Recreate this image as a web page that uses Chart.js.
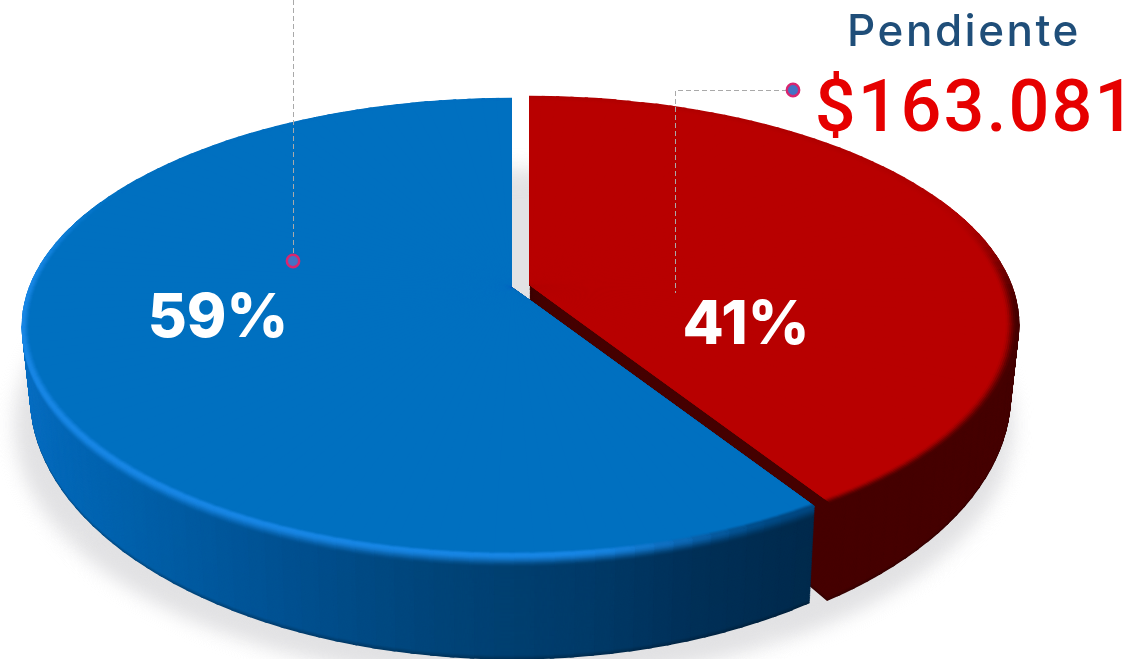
<!DOCTYPE html>
<html lang="es">
<head>
<meta charset="utf-8">
<title>Pendiente</title>
<script src="https://cdn.jsdelivr.net/npm/chart.js@4.4.1/dist/chart.umd.min.js"></script>
<style>
  html, body { margin: 0; padding: 0; background: #fff; }
  canvas { display: block; }
</style>
</head>
<body>
<canvas id="chart-canvas" width="1140" height="659"></canvas>
<script>
// values
const categories = ['Pendiente', 'Resto'];
const percentValues = [41, 59];
const percentLabels = ['41%', '59%'];
const pendingTitle = 'Pendiente';
const pendingAmount = '$163.081';

// look of the fake 3D pie
const topColors = [[184, 0, 0], [0, 112, 192]];
const sliceShift = [[17, -2], [0, 0]];
const labelPos = [[746, 344], [218, 337]];
const blueWallStops = [
  [20, [10, 112, 196]], [60, [4, 104, 184]], [150, [0, 95, 168]], [300, [0, 80, 144]],
  [450, [0, 68, 120]], [600, [0, 58, 104]], [700, [0, 48, 88]], [820, [0, 42, 76]]
];
const redWall = [70, 0, 0];
const wedgeCount = 180;
const perspective = -0.173;

function lerp(a, b, k) {
  return a.map((v, i) => v + (b[i] - v) * k);
}
function smooth(lo, hi, x) {
  const k = Math.min(1, Math.max(0, (x - lo) / (hi - lo)));
  return k * k * (3 - 2 * k);
}
function css(c) {
  return `rgb(${Math.round(c[0])},${Math.round(c[1])},${Math.round(c[2])})`;
}

function plane(t) {
  return { cx: 512, cy: 287 + 63 * t, R: 483 - 8 * t, a: 222 + 34 * t };
}
function project(theta, p, rho) {
  const u = Math.cos(theta), v = Math.sin(theta), w = 1 + perspective * v;
  return [p.R * u / w * rho, p.a * v / w * rho];
}

function wallColor(idx, screenX) {
  if (idx === 0) return redWall;
  const s = blueWallStops;
  for (let i = 1; i < s.length; i++) {
    if (screenX <= s[i][0]) return lerp(s[i - 1][1], s[i][1], (screenX - s[i - 1][0]) / (s[i][0] - s[i - 1][0]));
  }
  return s[s.length - 1][1];
}
function rimColor(idx, theta) {
  const u = Math.cos(theta), v = Math.sin(theta);
  if (idx === 0) return lerp(lerp(topColors[0], redWall, 0.06), redWall, smooth(-0.35, 0.15, v));
  const front = lerp([24, 134, 228], [0, 72, 130], smooth(0.1, 0.5, u));
  return lerp(topColors[1], front, smooth(-0.55, 0.0, v));
}

function drawWedges(ctx, chart, idx, p, rho, colorOf, minV) {
  const arc = chart.getDatasetMeta(0).data[idx];
  const baseOptions = arc.options;
  const r = arc.outerRadius;
  const step = Math.PI * 2 / wedgeCount;
  const arcStart = arc.startAngle, arcEnd = arc.endAngle;
  for (let i = 0; i < wedgeCount; i++) {
    const a1 = -Math.PI / 2 + i * step, a2 = a1 + step;
    if (a2 < arcStart || a1 > arcEnd) continue;
    if (Math.sin((a1 + a2) / 2) < minV) continue;
    const s1 = [r * Math.cos(a1), r * Math.sin(a1)], s2 = [r * Math.cos(a2), r * Math.sin(a2)];
    const q1 = project(a1, p, rho), q2 = project(a2, p, rho);
    const det = s1[0] * s2[1] - s2[0] * s1[1];
    // linear map that takes s1,s2 onto q1,q2
    const A = (q1[0] * s2[1] - q2[0] * s1[1]) / det;
    const C = (q2[0] * s1[0] - q1[0] * s2[0]) / det;
    const B = (q1[1] * s2[1] - q2[1] * s1[1]) / det;
    const D = (q2[1] * s1[0] - q1[1] * s2[0]) / det;
    const ox = p.cx + sliceShift[idx][0], oy = p.cy + sliceShift[idx][1];
    ctx.save();
    ctx.setTransform(A, B, C, D, ox - A * arc.x - C * arc.y, oy - B * arc.x - D * arc.y);
    ctx.beginPath();
    ctx.moveTo(arc.x, arc.y);
    ctx.lineTo(arc.x + 1.3 * r * Math.cos(a1 - 0.004), arc.y + 1.3 * r * Math.sin(a1 - 0.004));
    ctx.lineTo(arc.x + 1.3 * r * Math.cos(a2 + 0.004), arc.y + 1.3 * r * Math.sin(a2 + 0.004));
    ctx.closePath();
    ctx.clip();
    arc.options = Object.assign({}, baseOptions, { backgroundColor: css(colorOf((a1 + a2) / 2, ox + q1[0])) });
    arc.draw(ctx);
    ctx.restore();
  }
  arc.options = baseOptions;
}

function drawShadow(ctx, chart) {
  const arcs = chart.getDatasetMeta(0).data;
  [0, 1.7].forEach((turn) => {
    arcs.forEach((arc) => {
      const baseOptions = arc.options;
      const r = arc.outerRadius;
      ctx.save();
      ctx.filter = 'blur(11px)';
      ctx.translate(514, 425);
      ctx.scale(494 / r, 250 / r);
      ctx.rotate(turn);
      ctx.translate(-arc.x, -arc.y);
      arc.options = Object.assign({}, baseOptions, { backgroundColor: '#e2e2e4' });
      arc.draw(ctx);
      ctx.restore();
      arc.options = baseOptions;
    });
  });
}

function drawSlice(ctx, chart, idx) {
  const layers = 110;
  for (let l = layers; l >= 0; l--) {
    const t = l / layers;
    const p = plane(t);
    drawWedges(ctx, chart, idx, p, 1, (theta, x) => {
      let c = wallColor(idx, x);
      if (t < 0.12) c = lerp(rimColor(idx, theta), c, smooth(0, 0.12, t));
      if (t > 0.96) c = lerp(c, [0, 0, 0], (t - 0.96) * 6);
      return c;
    }, -0.4);
  }
  const top = plane(0);
  const steps = 7;
  const bevel = idx === 0 ? 0.028 : 0.016;
  for (let s = 0; s <= steps; s++) {
    const k = s / steps;
    drawWedges(ctx, chart, idx, top, 1 - bevel * k, (theta) => lerp(rimColor(idx, theta), topColors[idx], smooth(0.1, 1, k)), -2);
  }
}

function drawLeader(ctx, points, marker) {
  ctx.save();
  ctx.strokeStyle = '#a9a9a9';
  ctx.lineWidth = 1;
  ctx.setLineDash([5, 3]);
  ctx.beginPath();
  points.forEach((pt, i) => (i ? ctx.lineTo(pt[0], pt[1]) : ctx.moveTo(pt[0], pt[1])));
  ctx.stroke();
  ctx.setLineDash([]);
  ctx.beginPath();
  ctx.arc(marker[0], marker[1], 6.2, 0, Math.PI * 2);
  ctx.fillStyle = '#4472c4';
  ctx.fill();
  ctx.strokeStyle = '#d9256f';
  ctx.lineWidth = 2.4;
  ctx.stroke();
  ctx.restore();
}

const pie3d = {
  id: 'pie3d',
  beforeDatasetsDraw(chart) {
    const ctx = chart.ctx;
    drawShadow(ctx, chart);
    drawSlice(ctx, chart, 0);
    drawSlice(ctx, chart, 1);
    return false;
  },
  afterDraw(chart) {
    const ctx = chart.ctx;
    drawLeader(ctx, [[293.5, 0], [293.5, 255]], [293, 261]);
    drawLeader(ctx, [[787, 90.5], [675.5, 90.5], [675.5, 293]], [793, 90]);

    ctx.save();
    ctx.textBaseline = 'alphabetic';
    ctx.textAlign = 'center';
    ctx.fillStyle = '#ffffff';
    ctx.font = '800 60px Inter';
    percentLabels.forEach((text, i) => ctx.fillText(text, labelPos[i][0], labelPos[i][1]));

    ctx.fillStyle = '#1f4e79';
    ctx.font = '500 44px Inter';
    ctx.letterSpacing = '2.5px';
    ctx.fillText(pendingTitle, 964, 46);

    ctx.fillStyle = '#e60000';
    ctx.font = '500 72px Roboto';
    ctx.letterSpacing = '2px';
    ctx.fillText(pendingAmount, 976, 131);
    ctx.restore();
  }
};

new Chart(document.getElementById('chart-canvas'), {
  type: 'pie',
  data: {
    labels: categories,
    datasets: [{
      data: percentValues,
      backgroundColor: topColors.map(css),
      borderWidth: 0
    }]
  },
  options: {
    responsive: false,
    animation: false,
    devicePixelRatio: 1,
    events: [],
    layout: { padding: 0 },
    plugins: {
      legend: { display: false },
      tooltip: { enabled: false }
    }
  },
  plugins: [pie3d]
});
</script>
</body>
</html>
